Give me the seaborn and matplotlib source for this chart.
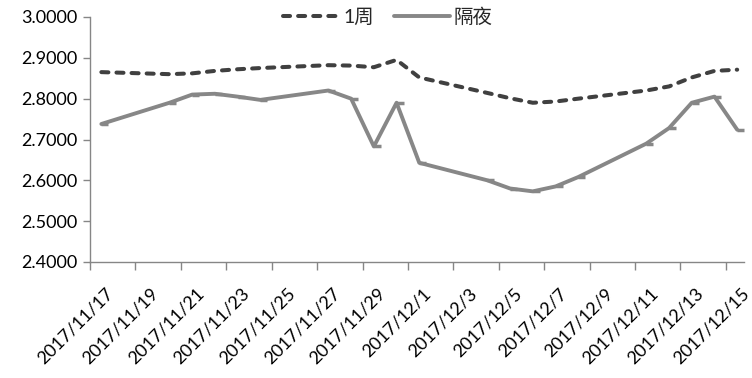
import matplotlib
matplotlib.use("Agg")
import matplotlib.pyplot as plt
import matplotlib.dates as mdates
import matplotlib.ticker as mticker
import matplotlib.transforms as mtransforms
from matplotlib.lines import Line2D
import seaborn as sns
import pandas as pd

dates = ["2017-11-17", "2017-11-20", "2017-11-21", "2017-11-22", "2017-11-23",
         "2017-11-24", "2017-11-27", "2017-11-28", "2017-11-29", "2017-11-30",
         "2017-12-01", "2017-12-04", "2017-12-05", "2017-12-06", "2017-12-07",
         "2017-12-08", "2017-12-11", "2017-12-12", "2017-12-13", "2017-12-14",
         "2017-12-15"]
week1 = [2.865, 2.860, 2.862, 2.868, 2.872, 2.875, 2.882, 2.881, 2.877, 2.895,
         2.852, 2.814, 2.801, 2.790, 2.793, 2.800, 2.820, 2.830, 2.852, 2.868,
         2.871]
overnight = [2.738, 2.790, 2.810, 2.812, 2.805, 2.797, 2.820, 2.800, 2.683, 2.790,
             2.643, 2.600, 2.580, 2.573, 2.585, 2.608, 2.690, 2.728, 2.790, 2.805,
             2.724]
series_names = ["1周", "隔夜"]
tick_start, tick_end = "2017-11-17", "2017-12-15"
y_ticks = [2.4, 2.5, 2.6, 2.7, 2.8, 2.9, 3.0]

sns.set_style("white")
plt.rcParams["font.family"] = ["Lato", "Noto Sans CJK SC", "DejaVu Sans"]

fig = plt.figure(figsize=(7.52, 3.78), dpi=100)
ax = fig.add_axes([90 / 752, 1 - 262 / 378, (744 - 90) / 752, (262 - 17) / 378])

x = pd.to_datetime(dates) + pd.Timedelta(hours=12)
df = pd.DataFrame({"date": x, "week1": week1, "overnight": overnight})

sns.lineplot(data=df, x="date", y="week1", ax=ax, color="#404040", linewidth=2.9,
             linestyle=(0, (1.75, 2.0)), dash_capstyle="round", legend=False)
sns.lineplot(data=df, x="date", y="overnight", ax=ax, color="#878787", linewidth=2.8,
             marker=1, markersize=5, markeredgewidth=2.5, markeredgecolor="#878787",
             legend=False)

ax.set_ylim(y_ticks[0], y_ticks[-1])
ax.set_yticks(y_ticks)
ax.yaxis.set_major_formatter(mticker.FormatStrFormatter("%.4f"))

start = pd.Timestamp(tick_start)
ticks = pd.date_range(tick_start, tick_end, freq="2D")
ax.set_xticks(ticks)
ax.xaxis.set_major_formatter(
    mticker.FuncFormatter(lambda v, p: (lambda d: f"{d.year}/{d.month}/{d.day}")(mdates.num2date(v))))
ax.set_xlim(start, start + pd.Timedelta(days=28.8))
ax.set_xlabel("")
ax.set_ylabel("")

for s in ["top", "right"]:
    ax.spines[s].set_visible(False)
for s in ["left", "bottom"]:
    ax.spines[s].set_color("#868686")
    ax.spines[s].set_linewidth(1.0)
ax.tick_params(axis="y", direction="out", length=5, width=1, color="#868686",
               labelsize=13, labelcolor="#000000", pad=4, left=True)
ax.tick_params(axis="x", direction="out", length=6, width=1, color="#868686",
               labelsize=13, labelcolor="#000000", pad=2, bottom=True)
offset = mtransforms.ScaledTranslation(15 / 100, -12 / 100, fig.dpi_scale_trans)
for lab in ax.get_xticklabels():
    lab.set_rotation(45)
    lab.set_ha("right")
    lab.set_rotation_mode("anchor")
    lab.set_transform(lab.get_transform() + offset)

h1 = Line2D([], [], color="#404040", linewidth=2.9, linestyle=(0, (1.75, 2.0)),
            dash_capstyle="round")
h2 = Line2D([], [], color="#878787", linewidth=2.8)
fig.legend([h1, h2], series_names, loc="center", bbox_to_anchor=(388 / 752, 1 - 17 / 378),
           ncol=2, frameon=False, fontsize=14, handlelength=2.9, handletextpad=0.2,
           columnspacing=1.0, borderpad=0)

fig.savefig("out.png", dpi=100)
